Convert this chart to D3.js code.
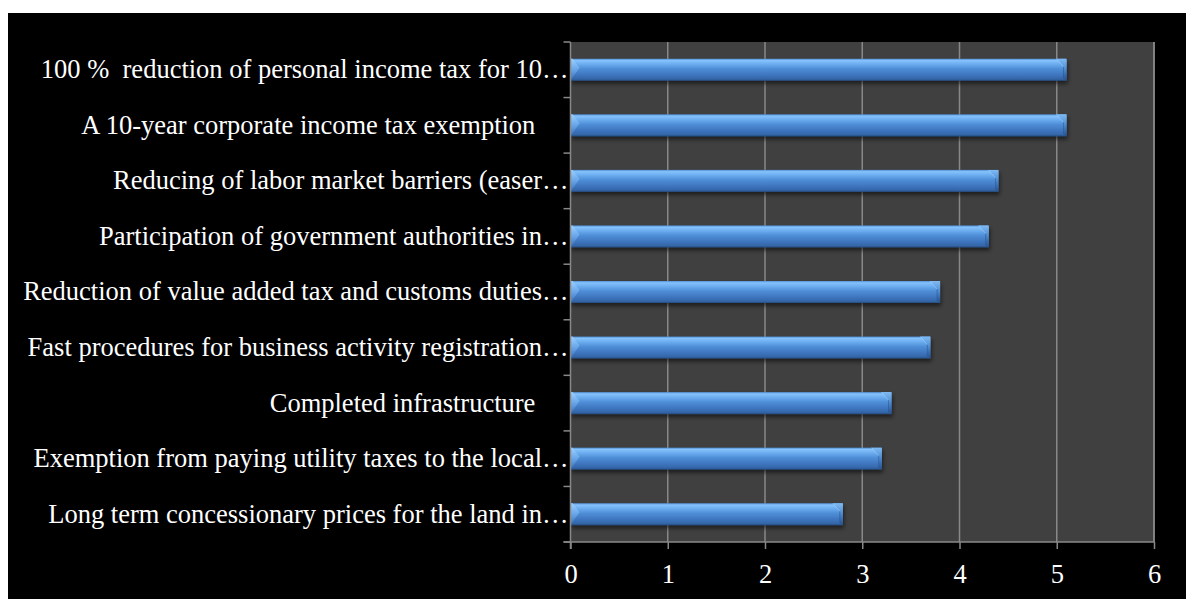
<!DOCTYPE html>
<html>
<head>
<meta charset="utf-8">
<script src="https://cdn.jsdelivr.net/npm/d3@7"></script>
<style>
  html, body { margin: 0; padding: 0; background: #ffffff; }
  svg { display: block; }
  text { font-family: "Liberation Serif", "Times New Roman", serif; fill: #ffffff; }
</style>
</head>
<body>
<svg id="chart" width="1186" height="599"></svg>
<script>
// Incentive measures (top to bottom) and their mean scores
const categories = [
  "100 %  reduction of personal income tax for 10\u2026",
  "A 10-year corporate income tax exemption     ",
  "Reducing of labor market barriers (easer\u2026",
  "Participation of government authorities in\u2026",
  "Reduction of value added tax and customs duties\u2026",
  "Fast procedures for business activity registration\u2026",
  "Completed infrastructure     ",
  "Exemption from paying utility taxes to the local\u2026",
  "Long term concessionary prices for the land in\u2026"
];
const values = [5.1, 5.1, 4.4, 4.3, 3.8, 3.7, 3.3, 3.2, 2.8];
const xTicks = [0, 1, 2, 3, 4, 5, 6];

const svg = d3.select("#chart");
const fontSize = "26.5px";

// black slide background
svg.append("rect").attr("x", 8).attr("y", 13).attr("width", 1178).attr("height", 586).attr("fill", "#000");

const plot = { left: 570.5, right: 1154, top: 42, bottom: 542 };

const x = d3.scaleLinear().domain([0, 6]).range([plot.left, plot.right]);
const y = d3.scaleBand().domain(categories).range([plot.top, plot.bottom]).paddingInner(0).paddingOuter(0);

const defs = svg.append("defs");
const body = defs.append("linearGradient").attr("id", "barBody").attr("x1", 0).attr("y1", 0).attr("x2", 0).attr("y2", 1);
[[0, "#4f8fd6"], [0.08, "#86c2fb"], [0.22, "#6fb0f2"], [0.45, "#4f8fd8"], [0.75, "#3d74bd"], [0.92, "#3466a8"], [1, "#254b80"]]
  .forEach(([o, c]) => body.append("stop").attr("offset", o).attr("stop-color", c));
const capR = defs.append("linearGradient").attr("id", "capRight").attr("x1", 0).attr("y1", 0).attr("x2", 0).attr("y2", 1);
[[0, "#7fbaf3"], [0.35, "#5b98da"], [0.7, "#3a6fb4"], [1, "#27508a"]]
  .forEach(([o, c]) => capR.append("stop").attr("offset", o).attr("stop-color", c));
const capL = defs.append("linearGradient").attr("id", "capLeft").attr("x1", 0).attr("y1", 0).attr("x2", 0).attr("y2", 1);
[[0, "#9fd2ff"], [0.5, "#6aa8ea"], [1, "#3a6fb4"]]
  .forEach(([o, c]) => capL.append("stop").attr("offset", o).attr("stop-color", c));
const shadow = defs.append("filter").attr("id", "shadow").attr("x", "-5%").attr("y", "-50%").attr("width", "110%").attr("height", "200%");
shadow.append("feDropShadow").attr("dx", 1).attr("dy", 3).attr("stdDeviation", 2.2)
  .attr("flood-color", "#000").attr("flood-opacity", 0.55);

// plot area
svg.append("rect")
  .attr("x", plot.left).attr("y", plot.top)
  .attr("width", plot.right - plot.left).attr("height", plot.bottom - plot.top)
  .attr("fill", "#404040");

const gridColor = "#888888";

// vertical gridlines
svg.append("g").selectAll("line").data(xTicks.filter(d => d > 0)).join("line")
  .attr("x1", d => x(d)).attr("x2", d => x(d))
  .attr("y1", plot.top).attr("y2", plot.bottom)
  .attr("stroke", gridColor).attr("stroke-width", 1.5);

// bars
const barH = 22;
const bars = svg.append("g").selectAll("g").data(categories.map((c, i) => ({ c, v: values[i] }))).join("g")
  .attr("filter", "url(#shadow)");
bars.each(function (d) {
  const g = d3.select(this);
  const x0 = x(0), x1 = x(d.v);
  const y0 = y(d.c) + y.bandwidth() / 2 - barH / 2, y1 = y0 + barH;
  g.append("rect").attr("x", x0).attr("y", y0).attr("width", x1 - x0).attr("height", barH).attr("fill", "url(#barBody)");
  // left bevel
  g.append("polygon")
    .attr("points", [[x0, y0], [x0 + 2, y0], [x0 + 9, y0 + 9], [x0 + 2, y1 - 3], [x0, y1]].map(p => p.join(",")).join(" "))
    .attr("fill", "url(#capLeft)").attr("opacity", 0.9);
  // right bevel
  g.append("polygon")
    .attr("points", [[x1 - 10, y0], [x1, y0], [x1, y1], [x1 - 3, y1 - 2], [x1 - 3, y0 + 8]].map(p => p.join(",")).join(" "))
    .attr("fill", "url(#capRight)");
  g.append("line").attr("x1", x1 - 10).attr("y1", y0).attr("x2", x1 - 3).attr("y2", y0 + 8)
    .attr("stroke", "#9ad0ff").attr("stroke-width", 0.8).attr("opacity", 0.7);
  g.append("line").attr("x1", x1 - 3).attr("y1", y0 + 8).attr("x2", x1 - 3).attr("y2", y1 - 2)
    .attr("stroke", "#2a5590").attr("stroke-width", 0.8).attr("opacity", 0.7);
});

// right border of plot area
svg.append("line").attr("x1", plot.right).attr("x2", plot.right).attr("y1", plot.top).attr("y2", plot.bottom)
  .attr("stroke", gridColor).attr("stroke-width", 1.5);

// x axis
const xAxis = svg.append("g").attr("transform", `translate(0,${plot.bottom})`)
  .call(d3.axisBottom(x).tickValues(xTicks).tickFormat(d3.format("d")).tickSize(7).tickPadding(15));
xAxis.select(".domain").remove();
xAxis.append("line").attr("x1", plot.left - 7).attr("x2", plot.right).attr("stroke", gridColor).attr("stroke-width", 1.5);
xAxis.selectAll(".tick line").attr("stroke", gridColor).attr("stroke-width", 1.5);
xAxis.selectAll(".tick text").attr("fill", "#fff").style("font-family", '"Liberation Serif", "Times New Roman", serif').style("font-size", fontSize);

// y axis: ticks on category boundaries
const boundaries = d3.range(categories.length + 1).map(i => plot.top + i * y.bandwidth());
const yAxis = svg.append("g");
yAxis.append("line").attr("x1", plot.left).attr("x2", plot.left).attr("y1", plot.top).attr("y2", plot.bottom + 7)
  .attr("stroke", gridColor).attr("stroke-width", 1.5);
yAxis.selectAll("line.tk").data(boundaries).join("line").attr("class", "tk")
  .attr("x1", plot.left - 7).attr("x2", plot.left).attr("y1", d => d).attr("y2", d => d)
  .attr("stroke", gridColor).attr("stroke-width", 1.5);
yAxis.selectAll("text").data(categories).join("text")
  .attr("x", plot.left - 2).attr("y", d => y(d) + y.bandwidth() / 2)
  .attr("dy", "0.32em").attr("text-anchor", "end")
  .style("white-space", "pre").style("font-size", fontSize)
  .text(d => d);
</script>
</body>
</html>
